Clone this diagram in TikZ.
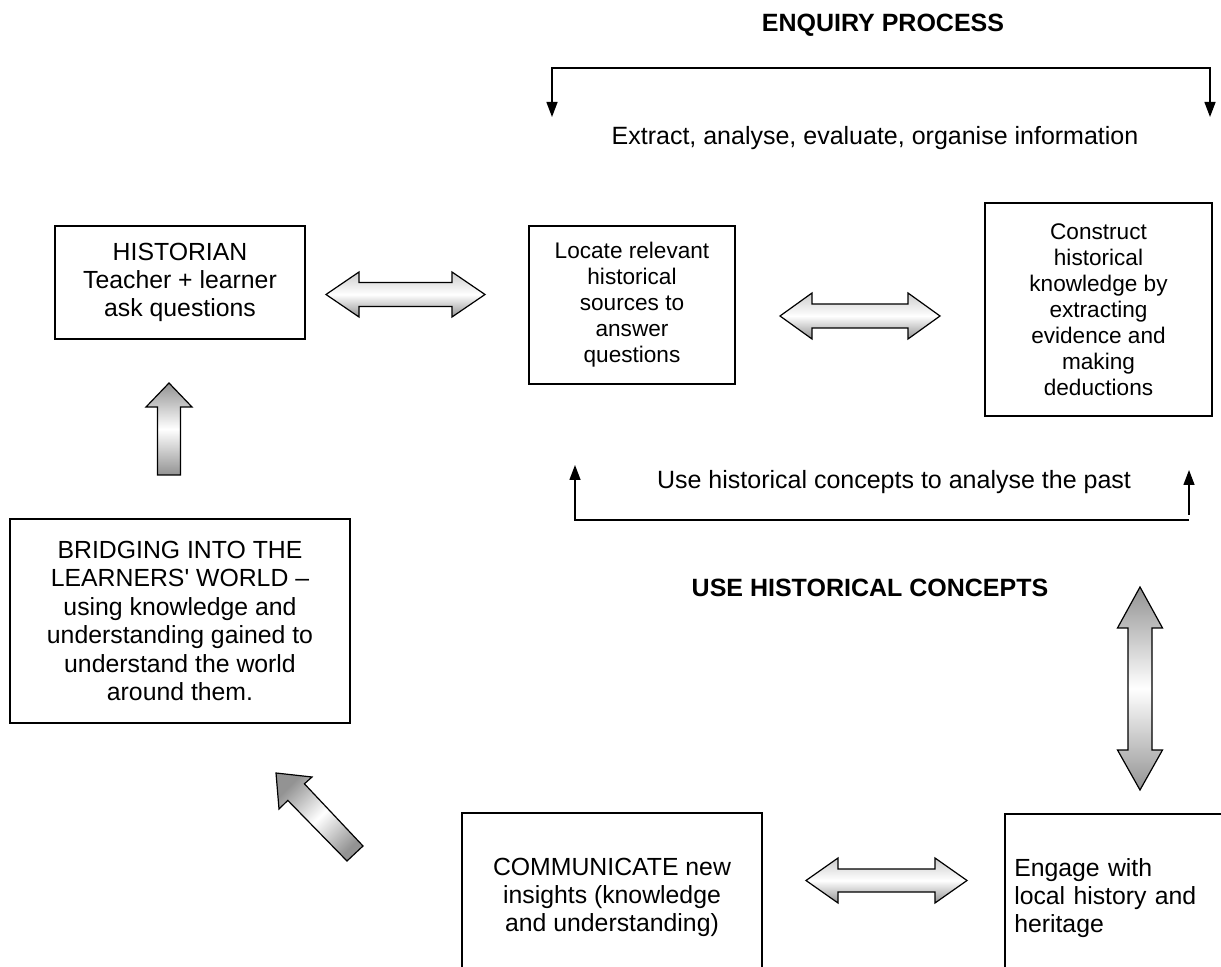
\documentclass[tikz,border=0pt]{standalone}
\usepackage{fontspec}
\setmainfont{Liberation Sans}
\usetikzlibrary{arrows.meta}

% looks used over and over
\tikzset{
  box/.style={draw, line width=0.75pt, align=center, inner sep=2pt,
    font=\fontsize{12.4}{14}\selectfont},
  smallbox/.style={box, font=\fontsize{11.3}{13}\selectfont},
  note/.style={inner sep=0pt, font=\fontsize{12.5}{15}\selectfont},
  heading/.style={inner sep=0pt, font=\bfseries\fontsize{12.5}{15}\selectfont},
  conn/.style={line width=0.7pt},
  bothconn/.style={conn, {Triangle[length=7.5pt, width=5.5pt]}-{Triangle[length=7.5pt, width=5.5pt]}},
  connarrow/.style={conn, -{Triangle[length=7.5pt, width=5.5pt]}},
  hblock/.style={draw, line width=0.6pt, top color=gray!40, bottom color=gray!85, middle color=white},
  vblock/.style={draw, line width=0.6pt, top color=gray!85, bottom color=gray!85, middle color=white},
  dblock/.style={vblock, shading angle=45}
}

\begin{document}
\begin{tikzpicture}[x=0.5pt, y=-0.5pt]
\clip (0,0) rectangle (1221,967);

% headings and captions
\node[heading] (enquiry) at (883,25) {ENQUIRY PROCESS};
\node[note] (extract) at (875,138) {Extract, analyse, evaluate, organise information};
\node[note] (usepast) at (894,482) {Use historical concepts to analyse the past};
\node[heading] (concepts) at (870,588) {USE HISTORICAL CONCEPTS};

% boxes
\node[box, minimum width=125pt, minimum height=56.5pt] (historian) at (180,282.5)
  {HISTORIAN\\Teacher + learner\\ask questions};
\node[smallbox, minimum width=103pt, minimum height=79pt] (locate) at (632,305)
  {Locate relevant\\historical\\sources to\\answer\\questions};
\node[smallbox, minimum width=113.5pt, minimum height=106.5pt] (construct) at (1098.5,309.5)
  {Construct\\historical\\knowledge by\\extracting\\evidence and\\making\\deductions};
\node[box, minimum width=170pt, minimum height=102pt, font=\fontsize{12.4}{14.2}\selectfont] (bridging) at (180,621)
  {BRIDGING INTO THE\\LEARNERS\textquotesingle{} WORLD –\\using knowledge and\\understanding gained to\\understand the world\\around them.};
\node[box, minimum width=150pt, minimum height=84pt] (communicate) at (612,897)
  {COMMUNICATE new\\insights (knowledge\\and understanding)};
\node[box, anchor=north west, align=left, text width=100pt, inner xsep=4.75pt, minimum height=84pt] (engage) at (1004,813)
  {Engage with\\local history and\\heritage};

% thin connectors
\coordinate (enqleft) at (552,68);
\coordinate (enqright) at (1210,68);
\coordinate (enqlefttip) at (552,117);
\coordinate (enqrighttip) at (1210,117);
\draw[bothconn] (enqlefttip) -- (enqleft) -- (enqright) -- (enqrighttip);

\coordinate (pastleft) at (575,520);
\coordinate (pastright) at (1189,520);
\coordinate (pastlefttip) at (575,465);
\coordinate (pastrightfoot) at (1189,515);
\coordinate (pastrighttip) at (1189,470);
\draw[connarrow] (pastright) -- (pastleft) -- (pastlefttip);
\draw[connarrow] (pastrightfoot) -- (pastrighttip);

% block arrows
\draw[hblock] (326,294.5) -- (359,272) -- (359,282.5) -- (452,282.5) -- (452,272) -- (485,294.5)
  -- (452,317) -- (452,306.5) -- (359,306.5) -- (359,317) -- cycle;
\draw[hblock] (780,316) -- (812,293) -- (812,304) -- (908,304) -- (908,293) -- (940,316)
  -- (908,339) -- (908,328) -- (812,328) -- (812,339) -- cycle;
\draw[hblock] (806,880.5) -- (838,858) -- (838,869) -- (935,869) -- (935,858) -- (967,880.5)
  -- (935,903) -- (935,892) -- (838,892) -- (838,903) -- cycle;
\draw[vblock] (1140,587) -- (1162.5,628) -- (1152,628) -- (1152,750) -- (1162.5,750) -- (1140,790)
  -- (1117.5,750) -- (1128,750) -- (1128,628) -- (1117.5,628) -- cycle;
\draw[vblock] (169,383) -- (192,407) -- (180.5,407) -- (180.5,475) -- (157.5,475) -- (157.5,407)
  -- (146,407) -- cycle;
\draw[dblock] (276,773) -- (312,777) -- (304.4,783.8) -- (363,846) -- (347,861)
  -- (287.8,800.4) -- (279,809) -- cycle;
\end{tikzpicture}
\end{document}
